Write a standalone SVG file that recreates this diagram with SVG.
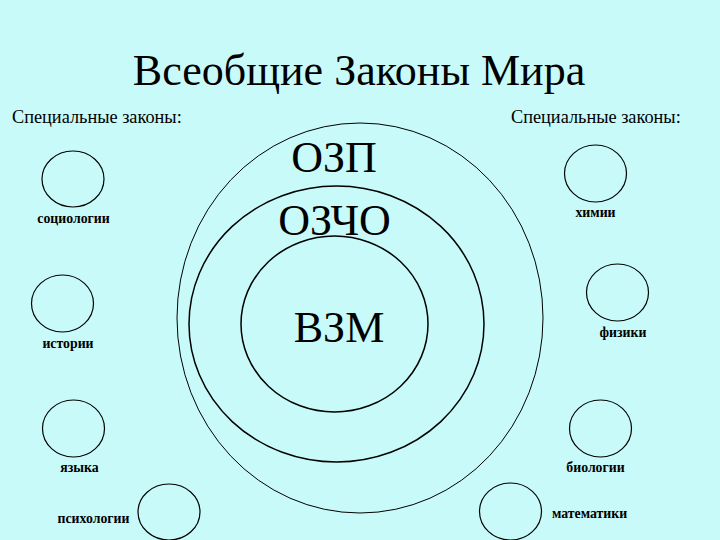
<svg xmlns="http://www.w3.org/2000/svg" width="720" height="540" viewBox="0 0 720 540">
<style>
text{font-family:'Liberation Serif','DejaVu Serif',serif;fill:#000}
.sm{font-weight:bold;font-size:13.8px;text-anchor:middle}
.c{fill:none;stroke:#000;stroke-width:1.2}
.big{font-size:44px;text-anchor:middle}
.sub{font-size:18.3px}
</style>
<rect width="720" height="540" fill="#C8FAFA"/>
<text x="359" y="85" font-size="44" text-anchor="middle">Всеобщие Законы Мира</text>
<text class="sub" x="12" y="123">Специальные законы:</text>
<text class="sub" x="511" y="123">Специальные законы:</text>
<g id="outer"><ellipse cx="360" cy="318" rx="183" ry="195" fill="none" stroke="#000" stroke-width="1"/><text class="big" x="334" y="172">ОЗП</text></g>
<g id="middle"><ellipse cx="336.5" cy="324" rx="147.5" ry="138" fill="none" stroke="#000" stroke-width="1.5"/><text class="big" x="334.5" y="235">ОЗЧО</text></g>
<g id="inner"><ellipse cx="334.5" cy="324" rx="93.5" ry="88" fill="none" stroke="#000" stroke-width="1.5"/><text class="big" x="339" y="342">ВЗМ</text></g>
<g id="connectors"></g>
<g id="socio"><ellipse class="c" cx="73" cy="179" rx="31" ry="28"/><text class="sm" x="73.5" y="223">социологии</text></g>
<g id="hist"><ellipse class="c" cx="62.5" cy="303.5" rx="31" ry="28.5"/><text class="sm" x="68" y="348">истории</text></g>
<g id="lang"><ellipse class="c" cx="73.5" cy="428.5" rx="31" ry="28.5"/><text class="sm" x="79.5" y="472">языка</text></g>
<g id="psych"><ellipse class="c" cx="169" cy="512" rx="31" ry="28"/><text class="sm" x="93.5" y="523">психологии</text></g>
<g id="chem"><ellipse class="c" cx="595.5" cy="173.5" rx="31" ry="28.5"/><text class="sm" x="595.5" y="217">химии</text></g>
<g id="phys"><ellipse class="c" cx="617.5" cy="292.5" rx="31" ry="28.5"/><text class="sm" x="623" y="337">физики</text></g>
<g id="bio"><ellipse class="c" cx="600.5" cy="428.5" rx="31" ry="28.5"/><text class="sm" x="595.5" y="472">биологии</text></g>
<g id="math"><ellipse class="c" cx="510.5" cy="511.5" rx="31" ry="28.5"/><text class="sm" x="589.5" y="518">математики</text></g>
</svg>
